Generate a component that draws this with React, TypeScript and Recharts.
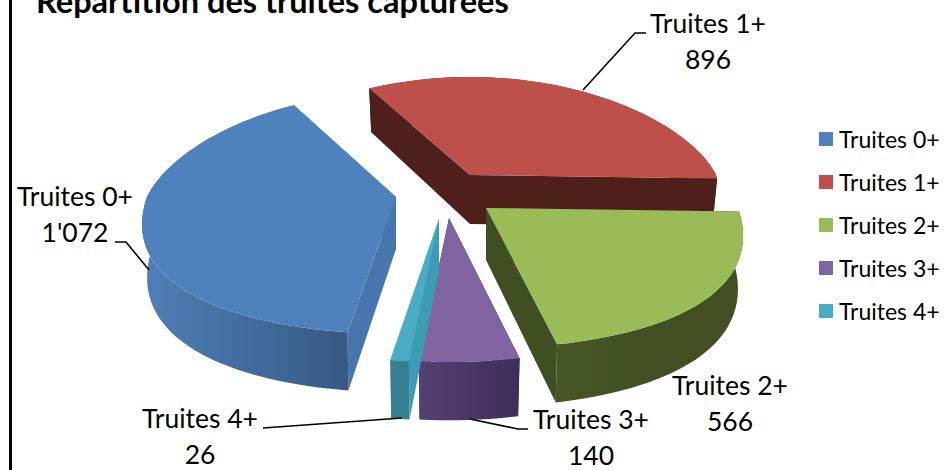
import React from 'react';
import { PieChart, Pie, Legend } from 'recharts';

const NAMES = ['Truites 0+', 'Truites 1+', 'Truites 2+', 'Truites 3+', 'Truites 4+'];
const VALUES = [1072, 896, 566, 140, 26];
const VALUE_LABELS = ["1'072", '896', '566', '140', '26'];
const COLORS = ['#4F81BD', '#BE504C', '#9BBB59', '#8064A2', '#4BACC6'];

const FONT = 'Lato, sans-serif';

// how each exploded slice sits in the fake 3D view
const POSES = [
  { ax: 396, ay: 197, rx: 249, back: 104, front: 137, depth: 52, cut: '#4676AD', wall: ['#4E80B8', '#426C9E', '#375982'] },
  { ax: 470, ay: 175, rx: 246, back: 98, front: 140, depth: 49, cut: '#4F1F1C', wall: ['#4F1F1C', '#4F1F1C', '#4F1F1C'] },
  { ax: 486, ay: 208, rx: 252, back: 100, front: 140, depth: 52, cut: '#404F22', wall: ['#465726', '#414F22', '#414F22'] },
  { ax: 449, ay: 218, rx: 250, back: 100, front: 144, depth: 52, cut: '#4A3763', wall: ['#544070', '#493766', '#3E2F59'] },
  { ax: 439, ay: 219, rx: 250, back: 100, front: 143, depth: 52, cut: '#3C9CB3', wall: ['#37808F', '#357F92', '#357F92'] },
];

const LABELS = [
  { x: 75, y: 206, line: '149,270 126,242 115,242' },
  { x: 708, y: 33, line: '583,90 635,33 646,33' },
  { x: 730, y: 395, line: '' },
  { x: 591, y: 429, line: '470,419 518,429 528,429' },
  { x: 200, y: 428, line: '402,418 263,428' },
];

const rows = NAMES.map((name, i) => ({ name, value: VALUES[i], fill: COLORS[i] }));

const project = (deg: number, pose: any, bottom: boolean) => {
  const t = (deg * Math.PI) / 180;
  const s = Math.sin(t);
  const c = Math.cos(t);
  const p = 0.195 - 0.055 * s;
  let x = pose.rx * c * (1 - p * s);
  let y = -(s > 0 ? pose.back : pose.front) * s;
  if (bottom) {
    x *= 0.98;
    y += pose.depth * (1 - 0.12 * s);
  }
  return [pose.ax + x, pose.ay + y];
};

const toPath = (pts: number[][]) =>
  'M' + pts.map((p) => `${p[0].toFixed(1)},${p[1].toFixed(1)}`).join('L') + 'Z';

const Slice3D = (props: any) => {
  const { startAngle, endAngle, fill } = props;
  const i = NAMES.indexOf(props.name ?? props.payload?.name);
  const pose = POSES[i];

  const top: number[][] = [];
  const low: number[][] = [];
  const n = Math.max(2, Math.ceil(Math.abs(startAngle - endAngle) / 2));
  for (let k = 0; k <= n; k++) {
    const a = startAngle + ((endAngle - startAngle) * k) / n;
    top.push(project(a, pose, false));
    low.push(project(a, pose, true));
  }
  const apexTop = [pose.ax, pose.ay];
  const apexLow = [pose.ax, pose.ay + pose.depth];
  const gradId = `wall-${i}`;

  return (
    <g>
      <defs>
        <linearGradient id={gradId} x1="0" y1="0" x2="1" y2="0">
          <stop offset="0%" stopColor={pose.wall[0]} />
          <stop offset="50%" stopColor={pose.wall[1]} />
          <stop offset="100%" stopColor={pose.wall[2]} />
        </linearGradient>
      </defs>
      <path d={toPath([top[0], apexTop, apexLow, low[0]])} fill={pose.cut} />
      <path d={toPath([top[n], apexTop, apexLow, low[n]])} fill={pose.cut} />
      <path d={toPath([...top, ...low.slice().reverse()])} fill={`url(#${gradId})`} />
      <path d={toPath([apexTop, ...top])} fill={fill} />
    </g>
  );
};

const renderLabel = (props: any) => {
  const i = NAMES.indexOf(props.name ?? props.payload?.name);
  const spot = LABELS[i];
  return (
    <g key={NAMES[i]}>
      {spot.line && <polyline points={spot.line} fill="none" stroke="#000" strokeWidth={1.6} />}
      <text x={spot.x} y={spot.y} textAnchor="middle" fontFamily={FONT} fontSize={26.5} fill="#000">
        {NAMES[i]}
      </text>
      <text x={spot.x} y={spot.y + 36} textAnchor="middle" fontFamily={FONT} fontSize={26.5} fill="#000">
        {VALUE_LABELS[i]}
      </text>
    </g>
  );
};

const renderLegend = () => (
  <div>
    {NAMES.map((name, i) => (
      <div key={name} style={{ display: 'flex', alignItems: 'center', height: 43 }}>
        <span style={{ width: 14, height: 14, background: COLORS[i], marginRight: 6 }} />
        <span style={{ fontFamily: FONT, fontSize: 23, color: '#000', whiteSpace: 'nowrap' }}>{name}</span>
      </div>
    ))}
  </div>
);

export default function App() {
  return (
    <div style={{ position: 'absolute', left: 0, top: 0, width: 946, height: 470, background: '#fff', overflow: 'hidden' }}>
      <div style={{ position: 'absolute', left: 9, top: 0, width: 3, height: 470, background: '#000' }} />
      <div
        style={{
          position: 'absolute',
          left: 36,
          top: -19,
          fontFamily: FONT,
          fontWeight: 700,
          fontSize: 32.5,
          lineHeight: '40px',
          color: '#000',
          whiteSpace: 'nowrap',
        }}
      >
        Répartition des truites capturées
      </div>
      <PieChart width={946} height={470} margin={{ top: 0, right: 0, bottom: 0, left: 0 }}>
        <Pie
          data={rows}
          dataKey="value"
          nameKey="name"
          cx={445}
          cy={205}
          outerRadius={250}
          startAngle={261}
          endAngle={-99}
          stroke="none"
          shape={Slice3D}
          label={renderLabel}
          labelLine={false}
          isAnimationActive={false}
        />
        <Legend content={renderLegend} wrapperStyle={{ position: 'absolute', left: 819, top: 117, width: 127, bottom: 'auto' }} />
      </PieChart>
    </div>
  );
}
